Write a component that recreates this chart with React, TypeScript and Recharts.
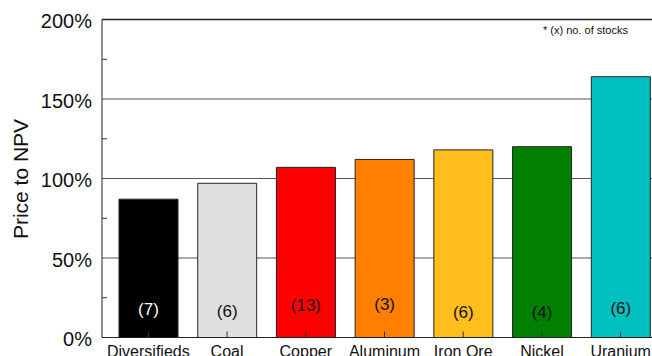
import { Bar, BarChart, CartesianGrid, Cell, Label, LabelList, ReferenceLine, XAxis, YAxis } from 'recharts';

const categories = ['Diversifieds', 'Coal', 'Copper', 'Aluminum', 'Iron Ore', 'Nickel', 'Uranium'];
const priceToNpv = [87, 97, 107, 112, 118, 120, 164];
const stockCounts = [7, 6, 13, 3, 6, 4, 6];
const yTicks = [0, 25, 50, 75, 100, 125, 150, 175, 200];
const gridValues = [0, 50, 100, 150, 200];

// styling kept apart from the values
const barColors = ['#000000', '#DFDFDF', '#FF0000', '#FF8000', '#FFBE1C', '#007F00', '#00C0C0'];
const countColors = ['#FFFFFF', '#111111', '#111111', '#111111', '#111111', '#111111', '#111111'];
const countLift = [23, 21, 27, 28, 20, 20, 24];

const FONT = '"Liberation Sans", Arial, Helvetica, sans-serif';

const rows = categories.map((name, i) => ({ name, value: priceToNpv[i], count: `(${stockCounts[i]})` }));

function YTick(props: any) {
  const { x, y, payload } = props;
  const major = payload.value % 50 === 0;
  return (
    <g>
      {!major && <line x1={x} x2={x + 5} y1={y} y2={y} stroke="#333" strokeWidth={1} />}
      {major && (
        <text x={x - 10} y={y} dy={8.5} textAnchor="end" fontSize={20} fontFamily={FONT} fill="#111">
          {`${payload.value}%`}
        </text>
      )}
    </g>
  );
}

function XTick(props: any) {
  const { x, y, payload } = props;
  return (
    <g>
      <line x1={x} x2={x} y1={y} y2={y - 6} stroke="#333" strokeWidth={1} />
      <text x={x} y={y + 19} textAnchor="middle" fontSize={16} fontFamily={FONT} fill="#111">
        {payload.value}
      </text>
    </g>
  );
}

function CountLabel(props: any) {
  const box = props.viewBox ?? props;
  const i = props.index ?? 0;
  const cx = box.x + box.width / 2;
  const base = box.y + box.height;
  return (
    <text x={cx} y={base - countLift[i]} textAnchor="middle" fontSize={17} fontFamily={FONT} fill={countColors[i]}>
      {props.value}
    </text>
  );
}

const axisTitle = () => (
  <g>
    <text
      transform="translate(27.5,179) rotate(-90)"
      textAnchor="middle"
      fontSize={21}
      fontFamily={FONT}
      fill="#111"
    >
      Price to NPV
    </text>
    <text x={585.5} y={34} textAnchor="middle" fontSize={11} fontFamily={FONT} fill="#111">
      * (x) no. of stocks
    </text>
  </g>
);

export default function App() {
  return (
    <div style={{ position: 'absolute', left: 0, top: 0, width: 652, height: 356, overflow: 'hidden', background: '#fff' }}>
      <BarChart
        width={670}
        height={380}
        data={rows}
        margin={{ top: 19.5, right: 10, left: 0, bottom: 12.5 }}
        barSize={59}
      >
        <CartesianGrid stroke="#555" vertical={false} horizontalValues={gridValues} />
        <ReferenceLine y={200} stroke="#222" strokeWidth={1.5} />
        <XAxis
          dataKey="name"
          height={30}
          padding={{ left: 7, right: 0 }}
          axisLine={{ stroke: '#222' }}
          tickLine={false}
          tickSize={0}
          tickMargin={0}
          interval={0}
          tick={<XTick />}
        />
        <YAxis
          type="number"
          domain={[0, 200]}
          ticks={yTicks}
          width={102}
          interval={0}
          axisLine={{ stroke: '#222' }}
          tickLine={false}
          tickSize={0}
          tickMargin={0}
          tick={<YTick />}
        >
          <Label content={axisTitle} />
        </YAxis>
        <Bar dataKey="value" stroke="#222" strokeWidth={1} isAnimationActive={false}>
          {rows.map((r, i) => (
            <Cell key={r.name} fill={barColors[i]} />
          ))}
          <LabelList dataKey="count" content={<CountLabel />} />
        </Bar>
      </BarChart>
    </div>
  );
}
